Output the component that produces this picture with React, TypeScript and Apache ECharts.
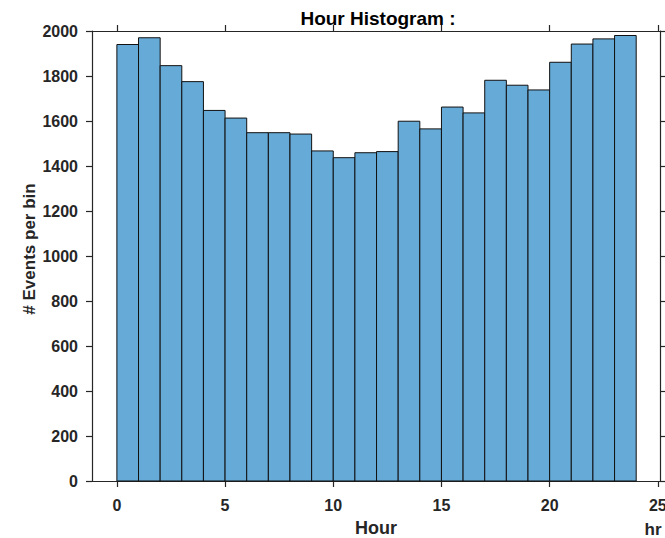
import React, { useEffect, useRef } from "react";
import * as echarts from "echarts";

const binStarts = [0, 1, 2, 3, 4, 5, 6, 7, 8, 9, 10, 11, 12, 13, 14, 15, 16, 17, 18, 19, 20, 21, 22, 23];
const binEnds = [1, 2, 3, 4, 5, 6, 7, 8, 9, 10, 11, 12, 13, 14, 15, 16, 17, 18, 19, 20, 21, 22, 23, 24];
const counts = [1940, 1970, 1846, 1775, 1647, 1613, 1548, 1548, 1542, 1467, 1437, 1459, 1464, 1599, 1565, 1662, 1636, 1781, 1759, 1738, 1861, 1942, 1965, 1980];
const xTicks = [0, 5, 10, 15, 20, 25];

const FONT = "Liberation Sans";
const AX = "#262626";

export default function App() {
  const ref = useRef<HTMLDivElement>(null);
  useEffect(() => {
    if (!ref.current) return;
    const chart = echarts.init(ref.current, null, { renderer: "svg" });
    const data = binStarts.map((s, i) => [s, binEnds[i], counts[i]]);
    const axisLine = { show: true, onZero: false, lineStyle: { color: AX, width: 1.2 } };
    const tickStyle = { color: AX, width: 1.2 };
    chart.setOption({
      animation: false,
      backgroundColor: "#ffffff",
      title: {
        text: "Hour Histogram :",
        left: 373,
        top: 4,
        textAlign: "center",
        textStyle: { fontFamily: FONT, fontSize: 19, fontWeight: "bold", color: "#000" },
      },
      grid: { left: 92, right: 5, top: 31, bottom: 57, containLabel: false, outerBoundsMode: "none" },
      xAxis: [
        {
          type: "value",
          min: -1.15,
          max: 25.1,
          position: "bottom",
          axisLine,
          axisTick: { show: true, inside: false, length: 6, customValues: xTicks, lineStyle: tickStyle },
          axisLabel: {
            customValues: xTicks,
            margin: 16,
            fontFamily: FONT,
            fontSize: 16,
            fontWeight: "bold",
            color: AX,
          },
          splitLine: { show: false },
        },
        {
          type: "value",
          min: -1.15,
          max: 25.1,
          position: "top",
          axisLine,
          axisTick: { show: true, inside: false, length: 6, customValues: xTicks, lineStyle: tickStyle },
          axisLabel: { show: false },
          splitLine: { show: false },
        },
      ],
      yAxis: [
        {
          type: "value",
          min: 0,
          max: 2000,
          interval: 200,
          position: "left",
          axisLine,
          axisTick: { show: true, inside: false, length: 6, lineStyle: tickStyle },
          axisLabel: {
            margin: 14,
            fontFamily: FONT,
            fontSize: 16,
            fontWeight: "bold",
            color: AX,
            formatter: (v: number) => String(v),
          },
          splitLine: { show: false },
        },
        {
          type: "value",
          min: 0,
          max: 2000,
          interval: 200,
          position: "right",
          axisLine,
          axisTick: { show: true, inside: false, length: 6, lineStyle: tickStyle },
          axisLabel: { show: false },
          splitLine: { show: false },
        },
      ],
      graphic: [
        {
          type: "text",
          x: 376,
          y: 528,
          style: {
            text: "Hour",
            fontFamily: FONT,
            fontSize: 18,
            fontWeight: "bold",
            fill: AX,
            align: "center",
            verticalAlign: "middle",
          },
        },
        {
          type: "text",
          x: 29,
          y: 249,
          rotation: Math.PI / 2,
          style: {
            text: "# Events per bin",
            fontFamily: FONT,
            fontSize: 17,
            fontWeight: "bold",
            fill: AX,
            align: "center",
            verticalAlign: "middle",
          },
        },
        {
          type: "text",
          x: 653,
          y: 529,
          style: {
            text: "hr",
            fontFamily: FONT,
            fontSize: 17,
            fontWeight: "bold",
            fill: AX,
            align: "center",
            verticalAlign: "middle",
          },
        },
      ],
      series: [
        {
          type: "custom",
          xAxisIndex: 0,
          yAxisIndex: 0,
          data,
          encode: { x: [0, 1], y: 2 },
          renderItem: (params: any, api: any) => {
            const p0 = api.coord([api.value(0), api.value(2)]);
            const p1 = api.coord([api.value(1), 0]);
            return {
              type: "rect",
              shape: { x: p0[0], y: p0[1], width: p1[0] - p0[0], height: p1[1] - p0[1] },
              style: { fill: "#66AAD7", stroke: "#111111", lineWidth: 1 },
            };
          },
        },
      ],
    });
    return () => chart.dispose();
  }, []);
  return <div ref={ref} style={{ position: "fixed", left: 0, top: 0, width: 665, height: 538 }} />;
}
